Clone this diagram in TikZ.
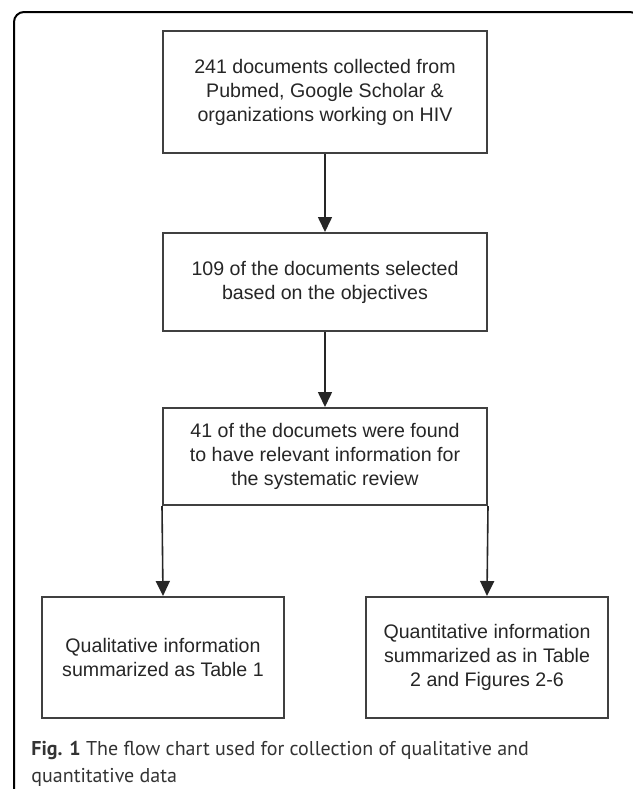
\documentclass[tikz,border=0pt]{standalone}
\usepackage{fontspec}
\setmainfont{Liberation Sans}
\newfontfamily\capfont{PT Sans}
\usepackage{tikz}
\usetikzlibrary{arrows.meta}
\usetikzlibrary{positioning}

\begin{document}
\begin{tikzpicture}[
    x=0.5pt, y=-0.5pt,
    font=\fontsize{9.8pt}{12pt}\selectfont
]
\tikzset{
    stepbox/.style = {rectangle, draw=black!75, line width=1pt, align=center,
        text=black!85, minimum width=162pt, minimum height=61pt, inner sep=3pt},
    endbox/.style = {stepbox, minimum width=121pt, minimum height=60.5pt},
    capnode/.style = {anchor=base west, inner sep=0pt, text=black!80,
        font=\capfont\fontsize{10pt}{11pt}\selectfont},
    edgen/.style = {-{Triangle[length=7.5pt,width=7pt]}, line width=0.8pt, black!85},
    framen/.style = {draw=black, line width=1pt, rounded corners=5pt}
}
\useasboundingbox (0,0) rectangle (633,789);
\clip (0,0) rectangle (633,789);
\draw[framen] (14,800) -- (14,12) -- (640,12) -- (640,800);
% flow boxes
\node[stepbox] at (325,92) (coll) {241 documents collected from\\ Pubmed, Google Scholar \&\\ organizations working on HIV};
\node[stepbox, minimum height=49pt] at (325,282) (sel) {109 of the documents selected\\ based on the objectives};
\node[stepbox, minimum height=48.5pt] at (325,456.5) (rel) {41 of the documets were found\\ to have relevant information for\\ the systematic review};
\node[endbox] at (163,657.5) (qual) {Qualitative information\\ summarized as Table 1};
\node[endbox] at (487,657.5) (quant) {Quantitative information\\ summarized as in Table\\ 2 and Figures 2-6};
\draw[edgen] (coll) -- (sel);
\draw[edgen] (sel) -- (rel);
\draw[edgen] (rel.south west) -- (qual.north);
\draw[edgen] (rel.south east) -- (quant.north);
% caption
\node[capnode] at (31,755) (cap1) {\textbf{Fig. 1} The flow chart used for collection of qualitative and};
\node[capnode] at (31,782) (cap2) {quantitative data};
\end{tikzpicture}
\end{document}
